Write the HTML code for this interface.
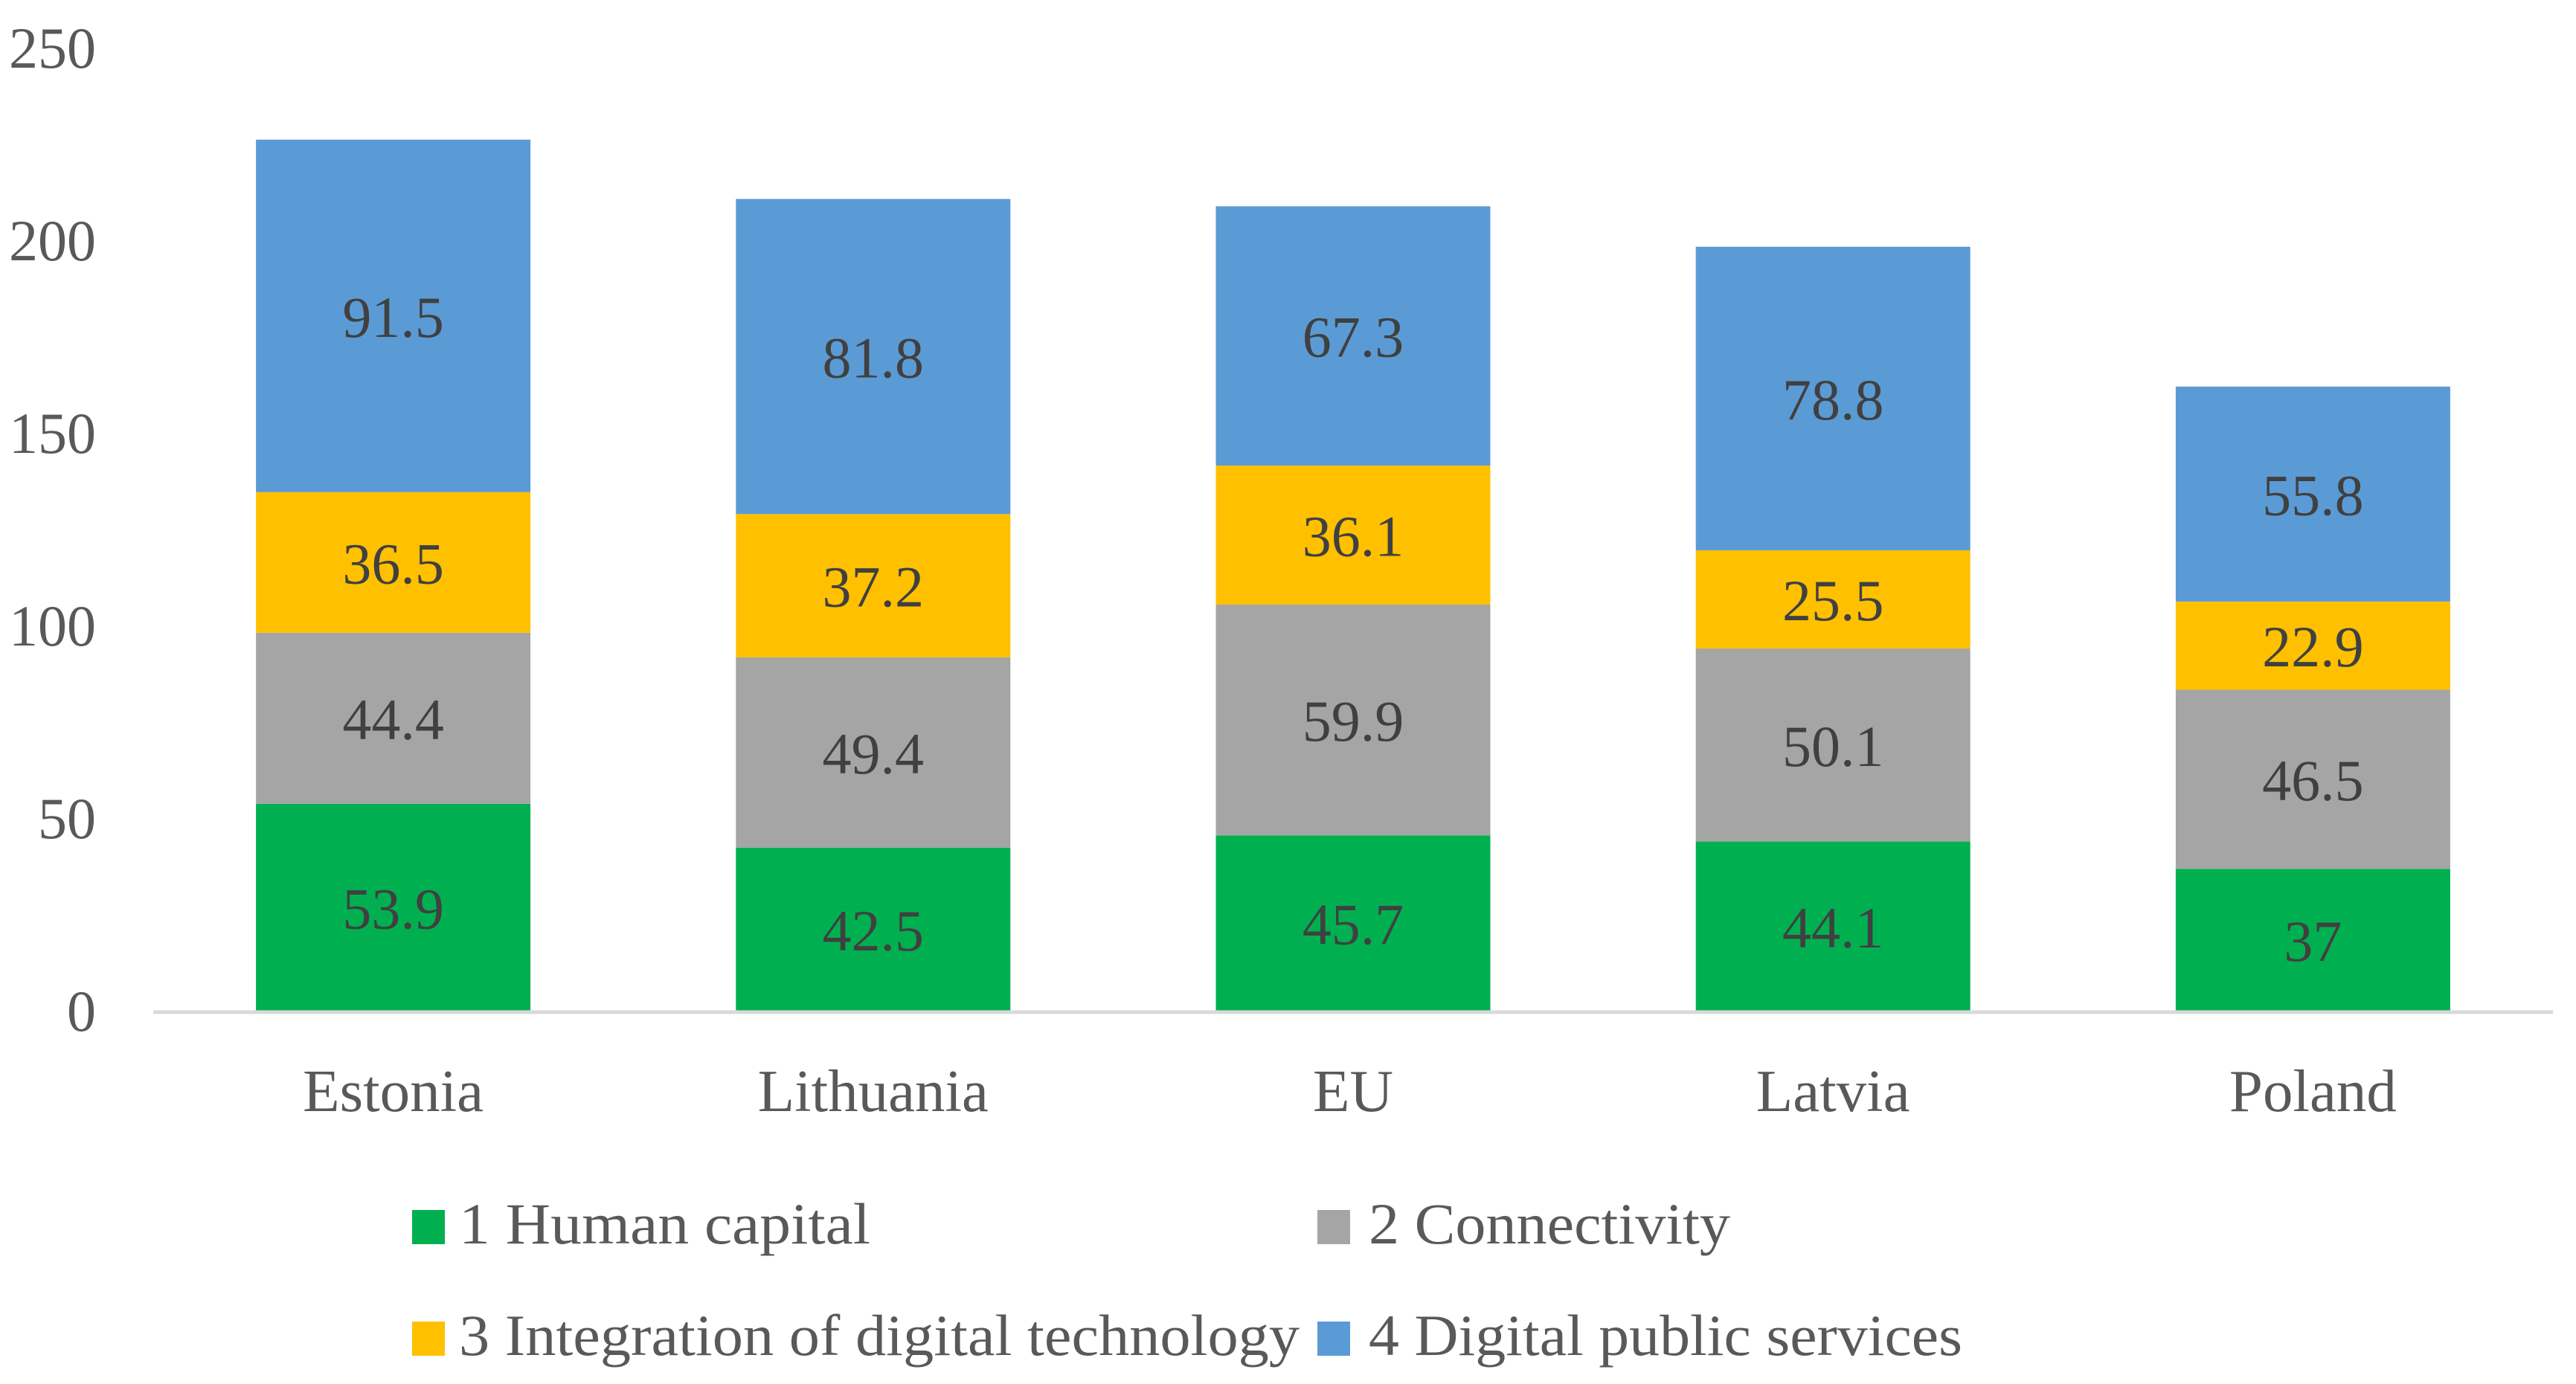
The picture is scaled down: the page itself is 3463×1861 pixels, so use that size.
<!DOCTYPE html>
<html><head><meta charset="utf-8">
<style>
html,body{margin:0;padding:0;background:#fff;}
svg{display:block;}
text{font-family:"Liberation Serif",serif;}
</style></head>
<body>
<svg id="chart" width="3463" height="1861" xmlns="http://www.w3.org/2000/svg">
<g id="yaxis"></g>
<g id="bars"></g>
<line x1="206" y1="1361" x2="3432" y2="1361" stroke="#d9d9d9" stroke-width="5"/>
<g id="xaxis"></g>
<g id="legend">
  <g>
    <rect x="554" y="1627" width="44" height="46" fill="#00b050"/>
    <text x="617" y="1672" font-size="78" fill="#595959" textLength="553" lengthAdjust="spacingAndGlyphs">1 Human capital</text>
  </g>
  <g>
    <rect x="1771" y="1627" width="44" height="46" fill="#a5a5a5"/>
    <text x="1840" y="1672" font-size="78" fill="#595959" textLength="486" lengthAdjust="spacingAndGlyphs">2 Connectivity</text>
  </g>
  <g>
    <rect x="554" y="1777" width="44" height="46" fill="#ffc000"/>
    <text x="617" y="1822" font-size="78" fill="#595959" textLength="1130" lengthAdjust="spacingAndGlyphs">3 Integration of digital technology</text>
  </g>
  <g>
    <rect x="1771" y="1777" width="44" height="46" fill="#5b9bd5"/>
    <text x="1840" y="1822" font-size="78" fill="#595959" textLength="798" lengthAdjust="spacingAndGlyphs">4 Digital public services</text>
  </g>
</g>
</svg>
<script>
const categories = ["Estonia","Lithuania","EU","Latvia","Poland"];
const humanCapital = [53.9,42.5,45.7,44.1,37];
const connectivity = [44.4,49.4,59.9,50.1,46.5];
const integration = [36.5,37.2,36.1,25.5,22.9];
const publicServices = [91.5,81.8,67.3,78.8,55.8];
const yTicks = [0,50,100,150,200,250];
const seriesNames = ["human-capital","connectivity","integration","public-services"];
const seriesColors = ["#00b050","#a5a5a5","#ffc000","#5b9bd5"];

const NS="http://www.w3.org/2000/svg";
const X0=206, X1=3432, Y0=1360, Y250=65;
const band=(X1-X0)/categories.length;
const barW=369;
function yScale(v){return Y0-(Y0-Y250)*v/250;}
function xCenter(i){return X0+band*(i+0.5);}

const yaxis=document.getElementById('yaxis');
yTicks.forEach(t=>{
  const tx=document.createElementNS(NS,'text');
  
  
  tx.setAttribute('x',129);tx.setAttribute('y',yScale(t)+26);
  tx.setAttribute('text-anchor','end');tx.setAttribute('font-size','78');tx.setAttribute('fill','#595959');
  tx.textContent=t;yaxis.appendChild(tx);
});

const bars=document.getElementById('bars');
const series=[humanCapital,connectivity,integration,publicServices];
categories.forEach((c,i)=>{
  let base=0;
  series.forEach((s,k)=>{
    const v=s[i];
    const r=document.createElementNS(NS,'rect');
    
    
    r.setAttribute('x',xCenter(i)-barW/2);
    r.setAttribute('y',yScale(base+v));
    r.setAttribute('width',barW);
    r.setAttribute('height',yScale(base)-yScale(base+v));
    r.setAttribute('fill',seriesColors[k]);
    bars.appendChild(r);
    const t=document.createElementNS(NS,'text');
    
    
    t.setAttribute('x',xCenter(i));
    t.setAttribute('y',(yScale(base)+yScale(base+v))/2+28);
    t.setAttribute('text-anchor','middle');t.setAttribute('font-size','78');t.setAttribute('fill','#404040');
    t.textContent=v;bars.appendChild(t);
    base+=v;
  });
});

const xaxis=document.getElementById('xaxis');
categories.forEach((c,i)=>{
  const t=document.createElementNS(NS,'text');
  
  
  t.setAttribute('x',xCenter(i));t.setAttribute('y',1494);
  t.setAttribute('text-anchor','middle');t.setAttribute('font-size','81');t.setAttribute('fill','#595959');
  t.textContent=c;xaxis.appendChild(t);
});
</script>
</body></html>
